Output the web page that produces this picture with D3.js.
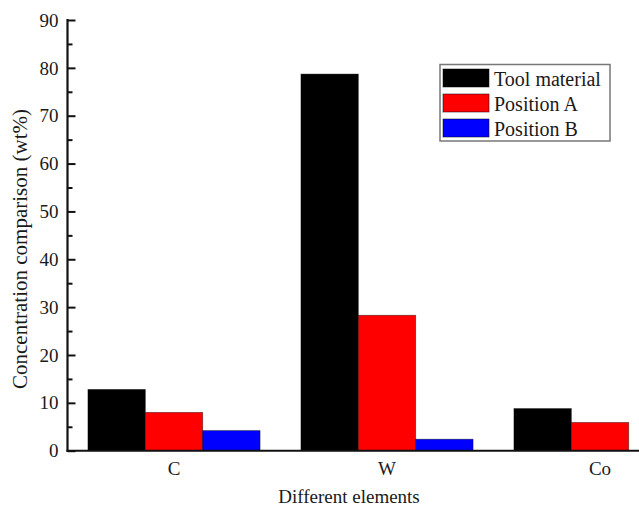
<!DOCTYPE html>
<html><head><meta charset="utf-8">
<script src="https://cdn.jsdelivr.net/npm/d3@7"></script>
<style>body{margin:0;background:#fff}svg{display:block}text{font-family:"Liberation Serif","Times New Roman",serif;fill:#1a1a1a}</style>
</head><body>
<script>
const categories = ["C", "W", "Co"];
const seriesNames = ["Tool material", "Position A", "Position B"];
const toolMaterial = [12.8, 78.7, 8.8];
const positionA = [8.0, 28.3, 5.9];
const positionB = [4.2, 2.4, 0];
const seriesColors = ["#000000", "#ff0000", "#0000ff"];
const yTicks = [0, 10, 20, 30, 40, 50, 60, 70, 80, 90];

const W = 639, H = 509;
const svg = d3.select("body").append("svg").attr("width", W).attr("height", H);
const pLeft = 67.5, pRight = 706.5, pTop = 20, pBottom = 450.7;

const x = d3.scaleBand().domain(categories).range([pLeft, pRight]).paddingInner(0.192).paddingOuter(0.096);
const xs = d3.scaleBand().domain(seriesNames).range([0, x.bandwidth()]);
const y = d3.scaleLinear().domain([0, 90]).range([pBottom, pTop]);

const data = [toolMaterial, positionA, positionB];
const g = svg.append("g");
seriesNames.forEach((s, si) => {
  g.selectAll(null).data(categories).enter().append("rect")
    .attr("x", c => x(c) + xs(s))
    .attr("y", (c, i) => y(data[si][i]))
    .attr("width", xs.bandwidth())
    .attr("height", (c, i) => pBottom - y(data[si][i]))
    .attr("fill", seriesColors[si])
    .attr("stroke", "#000").attr("stroke-opacity", 0.5).attr("stroke-width", 0.8);
});

// y axis
const yAxis = d3.axisRight(y).tickValues(yTicks).tickSize(8).tickFormat("");
const ya = svg.append("g").attr("transform", `translate(${pLeft},0)`).call(yAxis);
ya.select(".domain").remove();
ya.selectAll("line").attr("stroke", "#111").attr("stroke-width", 2);
const yMinor = d3.axisRight(y).tickValues(d3.range(5, 90, 10)).tickSize(5).tickFormat("");
const ym = svg.append("g").attr("transform", `translate(${pLeft},0)`).call(yMinor);
ym.select(".domain").remove();
ym.selectAll("line").attr("stroke", "#111").attr("stroke-width", 2);
svg.append("line").attr("x1", pLeft).attr("x2", pLeft).attr("y1", pTop - 1).attr("y2", pBottom + 1).attr("stroke", "#111").attr("stroke-width", 2.2);
svg.selectAll(".ylab").data(yTicks).enter().append("text")
  .attr("x", pLeft - 9).attr("y", d => y(d)).attr("dy", "0.35em").attr("text-anchor", "end")
  .attr("font-size", 19).text(d => d);

// x axis
svg.append("line").attr("x1", pLeft - 1).attr("x2", W).attr("y1", pBottom).attr("y2", pBottom).attr("stroke", "#111").attr("stroke-width", 2);
svg.selectAll(".xlab").data(categories).enter().append("text")
  .attr("x", c => x(c) + x.bandwidth() / 2).attr("y", 475).attr("text-anchor", "middle")
  .attr("font-size", 19).text(d => d);

svg.append("text").attr("x", 349).attr("y", 503).attr("text-anchor", "middle").attr("font-size", 19).text("Different elements");
svg.append("text").attr("transform", `translate(27,249) rotate(-90)`).attr("text-anchor", "middle").attr("font-size", 21).text("Concentration comparison (wt%)");

// legend
const lg = svg.append("g");
lg.append("rect").attr("x", 440).attr("y", 64.5).attr("width", 170).attr("height", 76.5).attr("fill", "#fff").attr("stroke", "#777").attr("stroke-width", 1.5);
seriesNames.forEach((s, i) => {
  lg.append("rect").attr("x", 443).attr("y", 69 + i * 25).attr("width", 46).attr("height", 18).attr("fill", seriesColors[i]).attr("stroke", "#000").attr("stroke-opacity", 0.5);
  lg.append("text").attr("x", 494).attr("y", 85.5 + i * 25).attr("font-size", 20).text(s);
});
</script>
</body></html>
